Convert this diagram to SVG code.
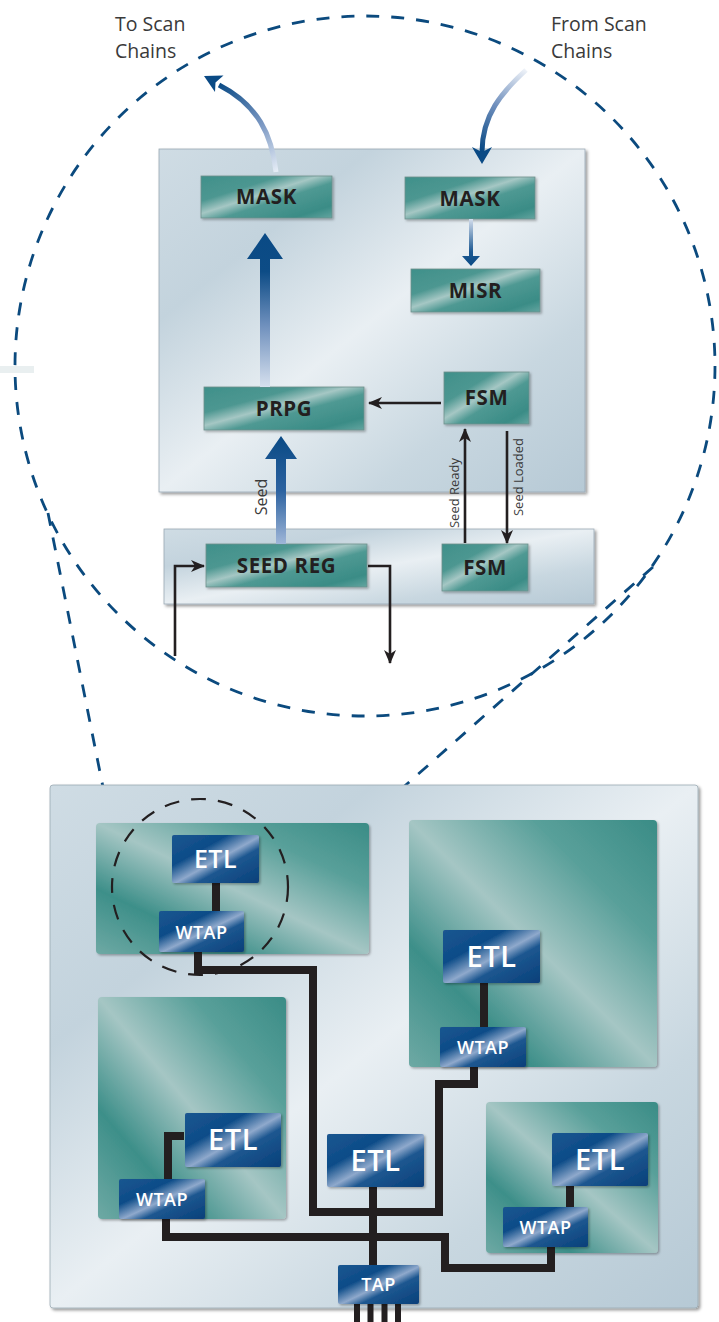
<svg xmlns="http://www.w3.org/2000/svg" width="719" height="1322" viewBox="0 0 719 1322">
  <defs>
    <linearGradient id="panelFill" x1="0" y1="0" x2="1" y2="1">
      <stop offset="0" stop-color="#cfdce4"/>
      <stop offset="0.25" stop-color="#c3d3dd"/>
      <stop offset="0.5" stop-color="#e9eff3"/>
      <stop offset="0.75" stop-color="#c8d7e0"/>
      <stop offset="1" stop-color="#b6c9d5"/>
    </linearGradient>
    <linearGradient id="tealFill" x1="0" y1="0" x2="1" y2="1">
      <stop offset="0" stop-color="#3f908a"/>
      <stop offset="0.3" stop-color="#4d9791"/>
      <stop offset="0.45" stop-color="#a5c7c4"/>
      <stop offset="0.58" stop-color="#4f9993"/>
      <stop offset="0.85" stop-color="#3a8c86"/>
      <stop offset="1" stop-color="#64a5a0"/>
    </linearGradient>
    <linearGradient id="blockFill" x1="0" y1="1" x2="1" y2="0">
      <stop offset="0" stop-color="#6ea9a4"/>
      <stop offset="0.25" stop-color="#3d8f89"/>
      <stop offset="0.5" stop-color="#a5c6c4"/>
      <stop offset="0.75" stop-color="#59a09a"/>
      <stop offset="1" stop-color="#3a8c86"/>
    </linearGradient>
    <linearGradient id="blueFill" x1="0" y1="0" x2="1" y2="1">
      <stop offset="0" stop-color="#1b5690"/>
      <stop offset="0.32" stop-color="#0d4c88"/>
      <stop offset="0.52" stop-color="#8fa9cc"/>
      <stop offset="0.64" stop-color="#1d5790"/>
      <stop offset="1" stop-color="#073f79"/>
    </linearGradient>
    <linearGradient id="bigArrowUp" gradientUnits="userSpaceOnUse" x1="0" y1="387" x2="0" y2="233">
      <stop offset="0" stop-color="#d6e0ee"/>
      <stop offset="0.4" stop-color="#6f90bd"/>
      <stop offset="0.75" stop-color="#0d4c86"/>
      <stop offset="1" stop-color="#0a4a85"/>
    </linearGradient>
    <linearGradient id="seedArrowUp" gradientUnits="userSpaceOnUse" x1="0" y1="544" x2="0" y2="437">
      <stop offset="0" stop-color="#9fb6d8"/>
      <stop offset="0.5" stop-color="#2c62a0"/>
      <stop offset="1" stop-color="#0a4a85"/>
    </linearGradient>
    <linearGradient id="smallArrowDown" gradientUnits="userSpaceOnUse" x1="0" y1="219" x2="0" y2="266">
      <stop offset="0" stop-color="#d3ddec"/>
      <stop offset="0.7" stop-color="#1b5892"/>
      <stop offset="1" stop-color="#0a4a85"/>
    </linearGradient>
    <linearGradient id="curveOut" gradientUnits="userSpaceOnUse" x1="276" y1="172" x2="218" y2="84">
      <stop offset="0" stop-color="#e6edf6"/>
      <stop offset="0.45" stop-color="#7b98c3"/>
      <stop offset="1" stop-color="#0a4a85"/>
    </linearGradient>
    <linearGradient id="curveIn" gradientUnits="userSpaceOnUse" x1="526" y1="70" x2="482" y2="150">
      <stop offset="0" stop-color="#eef2f8"/>
      <stop offset="0.5" stop-color="#6f8fbd"/>
      <stop offset="1" stop-color="#0a4a85"/>
    </linearGradient>
    <filter id="shadow" x="-5%" y="-5%" width="110%" height="115%">
      <feDropShadow dx="2" dy="2" stdDeviation="1.4" flood-color="#000" flood-opacity="0.4"/>
    </filter>
    <filter id="softShadow" x="-5%" y="-5%" width="110%" height="115%">
      <feDropShadow dx="1.5" dy="1.5" stdDeviation="1" flood-color="#000" flood-opacity="0.3"/>
    </filter>
    <marker id="barb" viewBox="0 0 14 12" refX="13" refY="6" markerWidth="14" markerHeight="12" markerUnits="userSpaceOnUse" orient="auto">
      <path d="M0,0 L14,6 L0,12 L4,6 Z" fill="#231f20"/>
    </marker>
    <style>
      .panel { fill: url(#panelFill); stroke: #9aa9b3; stroke-width: 0.8; filter: url(#shadow); }
      .tealBox { fill: url(#tealFill); stroke: #6f8f8c; stroke-width: 0.8; filter: url(#softShadow); }
      .block { fill: url(#blockFill); filter: url(#softShadow); }
      .blueBox { fill: url(#blueFill); filter: url(#softShadow); }
      .boxLabel { font-family: "Open Sans", "Liberation Sans", sans-serif; font-weight: 700; fill: #231f20; text-anchor: middle; letter-spacing: 0.6px; }
      .blueLabel { font-family: "Open Sans", "Liberation Sans", sans-serif; font-weight: 600; fill: #ffffff; text-anchor: middle; letter-spacing: 0.5px; }
      .note { font-family: "Open Sans", "Liberation Sans", sans-serif; font-weight: 400; fill: #3a3a3a; }
      .sideNote { font-family: "Open Sans", "Liberation Sans", sans-serif; font-weight: 400; fill: #3a3a3a; text-anchor: middle; }
      .blackArrow { fill: none; stroke: #231f20; stroke-width: 2.6; marker-end: url(#barb); }
      .wire { fill: none; stroke: #231f20; stroke-width: 8; stroke-linejoin: miter; stroke-linecap: butt; }
      .zoomDash { fill: none; stroke: #0b4a7e; stroke-width: 2.8; stroke-dasharray: 13 12; }
      .focusDash { fill: none; stroke: #231f20; stroke-width: 2.2; stroke-dasharray: 15 12; }
    </style>
  </defs>

  <rect x="0" y="0" width="719" height="1322" fill="#ffffff"/>
  <!-- faint edge strip at the left margin -->
  <rect x="0" y="366" width="34" height="7" fill="#dfe8ea" opacity="0.7"/>

  <!-- ===== Magnified view: dashed outline and callout lines ===== -->
  <g id="callout">
    <circle class="zoomDash" cx="365" cy="366" r="350"/>
    <line class="zoomDash" x1="48" y1="513" x2="118" y2="862"/>
    <line class="zoomDash" x1="653" y1="567" x2="289" y2="888"/>
  </g>

  <!-- labels at the scan-chain ends -->
  <g id="label-to-scan">
    <text class="note" x="115" y="31" font-size="19.5">To Scan</text>
    <text class="note" x="115" y="58" font-size="19.5">Chains</text>
  </g>
  <g id="label-from-scan">
    <text class="note" x="551" y="31" font-size="19.5">From Scan</text>
    <text class="note" x="551" y="58" font-size="19.5">Chains</text>
  </g>

  <!-- ===== Upper block panels ===== -->
  <g id="panel-compress">
    <rect class="panel" x="159" y="149" width="426" height="343"/>
  </g>
  <g id="panel-seed">
    <rect class="panel" x="164" y="529" width="430" height="75"/>
  </g>

  <g id="mask-out">
    <rect class="tealBox" x="201" y="176" width="131" height="42"/>
    <text class="boxLabel" x="266.5" y="204" font-size="20.5">MASK</text>
  </g>
  <g id="mask-in">
    <rect class="tealBox" x="405" y="177" width="130" height="42"/>
    <text class="boxLabel" x="470" y="206" font-size="20.5">MASK</text>
  </g>
  <g id="misr">
    <rect class="tealBox" x="411" y="269" width="129" height="43"/>
    <text class="boxLabel" x="475.5" y="298" font-size="20.5">MISR</text>
  </g>
  <g id="prpg">
    <rect class="tealBox" x="204" y="387" width="160" height="43"/>
    <text class="boxLabel" x="284" y="416" font-size="20.5">PRPG</text>
  </g>
  <g id="fsm-top">
    <rect class="tealBox" x="444" y="372" width="85" height="52"/>
    <text class="boxLabel" x="486.5" y="405" font-size="20.5">FSM</text>
  </g>
  <g id="seed-reg">
    <rect class="tealBox" x="206" y="544" width="161" height="43"/>
    <text class="boxLabel" x="286.5" y="573" font-size="20.5">SEED REG</text>
  </g>
  <g id="fsm-bottom">
    <rect class="tealBox" x="442" y="544" width="86" height="47"/>
    <text class="boxLabel" x="485" y="575" font-size="20.5">FSM</text>
  </g>

  <!-- ===== Upper connectors ===== -->
  <g id="upper-connectors">
    <!-- scan data out / in -->
    <path d="M276,172 C272,135 258,105 219,85" fill="none" stroke="url(#curveOut)" stroke-width="5"/>
    <path d="M204,76 L223.5,75.5 L215.5,82.5 L215,92 Z" fill="#0a4a85"/>
    <path d="M526,70 C502,92 482,115 482,152" fill="none" stroke="url(#curveIn)" stroke-width="5"/>
    <path d="M482,164 L472,147 L482,152 L492,147 Z" fill="#0a4a85"/>
    <!-- PRPG to MASK -->
    <path d="M260,387 L260,259 L247,259 L265,233 L283,259 L270,259 L270,387 Z" fill="url(#bigArrowUp)"/>
    <!-- SEED REG to PRPG -->
    <path d="M276,544 L276,459 L265,459 L281,436 L297,459 L286,459 L286,544 Z" fill="url(#seedArrowUp)"/>
    <!-- MASK to MISR -->
    <path d="M469,219 L469,256 L462,256 L471,266 L480,256 L473,256 L473,219 Z" fill="url(#smallArrowDown)"/>
    <!-- control paths -->
    <line class="blackArrow" x1="441" y1="403" x2="369" y2="403"/>
    <line class="blackArrow" x1="465" y1="543" x2="465" y2="429"/>
    <line class="blackArrow" x1="507" y1="431" x2="507" y2="543"/>
    <polyline class="blackArrow" points="175,656 175,566 204,566"/>
    <polyline class="blackArrow" points="368,566 390,566 390,663"/>
  </g>

  <g id="signal-labels">
    <text class="sideNote" font-size="16" transform="translate(267,497) rotate(-90)">Seed</text>
    <text class="sideNote" font-size="13" transform="translate(459,493) rotate(-90)">Seed Ready</text>
    <text class="sideNote" font-size="13" transform="translate(523,477) rotate(-90)">Seed Loaded</text>
  </g>

  <!-- ===== Chip floorplan ===== -->
  <g id="chip">
    <rect class="panel" x="50" y="785" width="648" height="523" rx="3"/>
  </g>
  <g id="core-top-left">
    <rect class="block" x="96" y="823" width="273" height="131" rx="4"/>
  </g>
  <g id="core-top-right">
    <rect class="block" x="409" y="820" width="248" height="247" rx="4"/>
  </g>
  <g id="core-bottom-left">
    <rect class="block" x="98" y="997" width="188" height="222" rx="4"/>
  </g>
  <g id="core-bottom-right">
    <rect class="block" x="486" y="1102" width="172" height="151" rx="4"/>
  </g>

  <!-- JTAG wiring -->
  <g id="wiring">
    <path class="wire" d="M216,883 V911"/>
    <path class="wire" d="M198,952 V970 H313 V1212 H439 V1084 H474 V1067"/>
    <path class="wire" d="M484,983 V1027"/>
    <path class="wire" d="M184,1136 H168 V1179"/>
    <path class="wire" d="M166,1219 V1237 H445 V1268 H551 V1247"/>
    <path class="wire" d="M570,1186 V1207"/>
    <path class="wire" d="M373,1187 V1265"/>
    <path d="M357,1304 V1322 M370.5,1304 V1322 M384.5,1304 V1322 M398,1304 V1322" fill="none" stroke="#231f20" stroke-width="6"/>
  </g>

  <g id="etl-top-left">
    <rect class="blueBox" x="172" y="835" width="87" height="48" rx="2"/>
    <text class="blueLabel" x="215.5" y="868" font-size="25">ETL</text>
  </g>
  <g id="wtap-top-left">
    <rect class="blueBox" x="159" y="911" width="85" height="41" rx="2"/>
    <text class="blueLabel" x="201.5" y="938.5" font-size="18">WTAP</text>
  </g>
  <g id="etl-top-right">
    <rect class="blueBox" x="443" y="930" width="97" height="53" rx="2"/>
    <text class="blueLabel" x="491.5" y="967" font-size="29">ETL</text>
  </g>
  <g id="wtap-top-right">
    <rect class="blueBox" x="440" y="1027" width="86" height="40" rx="2"/>
    <text class="blueLabel" x="483" y="1053.5" font-size="18">WTAP</text>
  </g>
  <g id="etl-bottom-left">
    <rect class="blueBox" x="185" y="1113" width="96" height="54" rx="2"/>
    <text class="blueLabel" x="233" y="1150" font-size="29">ETL</text>
  </g>
  <g id="wtap-bottom-left">
    <rect class="blueBox" x="119" y="1179" width="86" height="40" rx="2"/>
    <text class="blueLabel" x="162" y="1205.5" font-size="18">WTAP</text>
  </g>
  <g id="etl-center">
    <rect class="blueBox" x="327" y="1134" width="97" height="53" rx="2"/>
    <text class="blueLabel" x="375.5" y="1171" font-size="29">ETL</text>
  </g>
  <g id="etl-bottom-right">
    <rect class="blueBox" x="552" y="1133" width="96" height="53" rx="2"/>
    <text class="blueLabel" x="600" y="1170" font-size="29">ETL</text>
  </g>
  <g id="wtap-bottom-right">
    <rect class="blueBox" x="503" y="1207" width="85" height="40" rx="2"/>
    <text class="blueLabel" x="545.5" y="1233.5" font-size="18">WTAP</text>
  </g>
  <g id="tap">
    <rect class="blueBox" x="338" y="1265" width="81" height="39" rx="2"/>
    <text class="blueLabel" x="378.5" y="1291" font-size="18">TAP</text>
  </g>

  <!-- highlighted region around the first wrapped core -->
  <g id="focus-ring">
    <circle class="focusDash" cx="200" cy="887" r="88"/>
  </g>
</svg>
